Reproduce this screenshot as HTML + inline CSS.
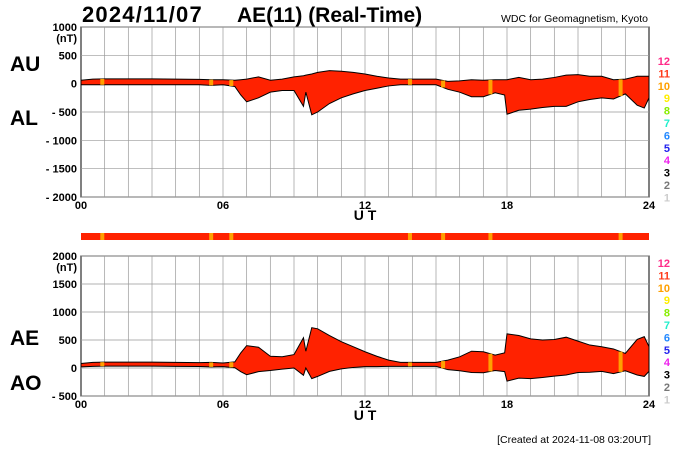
<!DOCTYPE html>
<html><head><meta charset="utf-8"><style>
body{margin:0;background:#fff;font-family:"Liberation Sans",sans-serif}
svg text{font-family:"Liberation Sans",sans-serif}
</style></head><body>
<svg id="c" width="700" height="450" xmlns="http://www.w3.org/2000/svg">
<text x="82" y="22" font-size="22" font-weight="bold" letter-spacing="1.2">2024/11/07</text>
<text x="237" y="22" font-size="21" font-weight="bold">AE(11) (Real-Time)</text>
<text x="648" y="22" font-size="10.5" text-anchor="end">WDC for Geomagnetism, Kyoto</text>
<text x="10" y="71" font-size="21" font-weight="bold">AU</text>
<text x="10" y="125" font-size="21" font-weight="bold">AL</text>
<text x="10" y="345" font-size="21" font-weight="bold">AE</text>
<text x="10" y="390" font-size="21" font-weight="bold">AO</text>
<text x="365" y="220" font-size="14" font-weight="bold" text-anchor="middle">U T</text>
<text x="365" y="420" font-size="14" font-weight="bold" text-anchor="middle">U T</text>
<text x="651" y="443" font-size="10.5" text-anchor="end">[Created at 2024-11-08 03:20UT]</text>
<g id="g"></g>
</svg>
<script>
const hours=[0,0.5,1,2,3,4,5,5.5,6,6.5,6.75,7,7.5,8,8.5,9,9.4,9.5,9.75,10,10.5,11,11.5,12,12.5,13,13.5,14,14.5,15,15.5,16,16.5,17,17.5,17.9,18,18.5,19,19.5,20,20.5,21,21.5,22,22.5,23,23.5,23.8,24];
const au=[60,80,85,85,85,80,75,70,70,60,70,80,120,60,80,120,140,150,170,200,230,220,200,170,130,100,80,80,80,80,40,50,70,60,70,70,70,110,70,80,110,150,160,130,130,70,80,130,130,130];
const al=[-20,-20,-20,-20,-20,-20,-20,-30,-20,-50,-200,-320,-250,-150,-120,-120,-400,-150,-550,-500,-350,-250,-180,-120,-80,-40,-20,-20,-20,-20,-100,-150,-230,-230,-160,-200,-540,-470,-450,-420,-400,-400,-320,-280,-250,-270,-180,-380,-430,-250];
const flags=[0.9,5.5,6.35,13.9,15.3,17.3,22.8];
const topTicks=[1000,500,0,-500,-1000,-1500,-2000];
const topTickLabels=["1000","500","0","- 500","- 1000","- 1500","- 2000"];
const botTicks=[2000,1500,1000,500,0,-500];
const botTickLabels=["2000","1500","1000","500","0","- 500"];
const xTicks=[0,6,12,18,24];
const xTickLabels=["00","06","12","18","24"];
const levels=["12","11","10","9","8","7","6","5","4","3","2","1"];
const levelColors=["#ff2a88","#ff3b1a","#ffa000","#ffee00","#88ee00","#22eecc","#2288ff","#2222ee","#ee22ee","#000","#777","#ccc"];

const NS="http://www.w3.org/2000/svg",g=document.getElementById('g');
const X0=81,X1=649;
const xs=h=>X0+(X1-X0)*h/24;
const yTop=v=>27+(1000-v)*(170/3000);
const yBot=v=>256+(2000-v)*(140/2500);
function el(t,a,name){const e=document.createElementNS(NS,t);for(const k in a)e.setAttribute(k,a[k]);g.appendChild(e);


return e;}
function txt(x,y,s,a,name){const e=el('text',Object.assign({x:x,y:y,'font-size':11,'font-weight':'bold'},a),name);e.textContent=s;return e;}

function panel(ys,ticks,labels,yt,yb,up,lo,prefix){
  el('rect',{x:X0,y:yt,width:X1-X0,height:yb-yt,fill:'#fff',stroke:'#000','stroke-width':1},prefix+'-plot-area');
  for(let h=1;h<24;h++)el('line',{x1:xs(h),x2:xs(h),y1:yt,y2:yb,stroke:'#999','stroke-width':0.7},prefix+'-v-grid');
  ticks.forEach((t,i)=>{el('line',{x1:X0,x2:X1,y1:ys(t),y2:ys(t),stroke:'#999','stroke-width':0.7},prefix+'-h-grid');
    txt(77,ys(t)+4,labels[i],{'text-anchor':'end'},prefix+'-y-tick');});
  txt(77,yt+15,'(nT)',{'text-anchor':'end'},prefix+'-unit');
  let pts=hours.map((h,i)=>xs(h)+','+ys(up[i])).join(' ');
  let pts2=hours.map((h,i)=>xs(h)+','+ys(lo[i])).reverse().join(' ');
  el('polygon',{points:pts+' '+pts2,fill:'#ff2200',stroke:'#000','stroke-width':1},prefix+'-area');
  flags.forEach(f=>el('rect',{x:xs(f)-2,y:ys(interp(up,f)),width:4,height:ys(interp(lo,f))-ys(interp(up,f)),fill:'#ffa000'},prefix+'-flag'));
  xTicks.forEach((t,i)=>txt(xs(t),yb+12,xTickLabels[i],{'text-anchor':'middle'},prefix+'-x-tick'));
  levels.forEach((l,i)=>txt(670,yt+ (prefix==='top'?38:11)+i*12.4,l,{'text-anchor':'end',fill:levelColors[i]},prefix+'-level-legend'));
}
function interp(a,h){for(let i=1;i<hours.length;i++)if(hours[i]>=h){const t=(h-hours[i-1])/(hours[i]-hours[i-1]);return a[i-1]+t*(a[i]-a[i-1]);}return a[a.length-1];}
panel(yTop,topTicks,topTickLabels,27,197,au,al,'top');
const ae=au.map((v,i)=>v-al[i]),ao=au.map((v,i)=>(v+al[i])/2);
panel(yBot,botTicks,botTickLabels,256,396,ae,ao,'bottom');
el('rect',{x:X0,y:233,width:X1-X0,height:7,fill:'#ff2200'},'station-bar');
flags.forEach(f=>el('rect',{x:xs(f)-2,y:233,width:4,height:7,fill:'#ffa000'},'station-bar-flag'));
</script>
</body></html>
